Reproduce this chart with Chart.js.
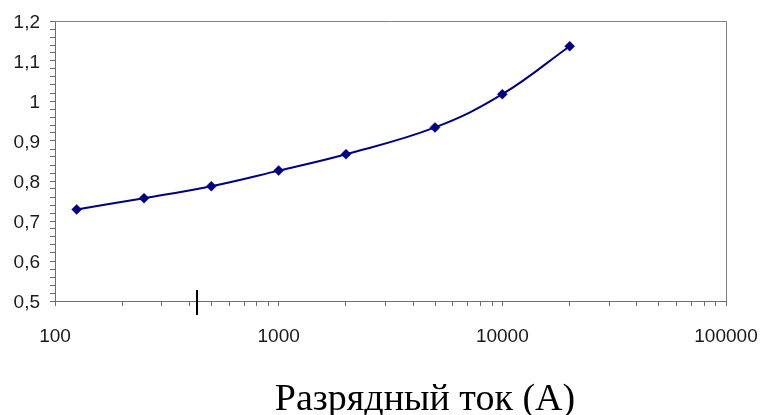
<!DOCTYPE html>
<html><head><meta charset="utf-8">
<script src="https://cdn.jsdelivr.net/npm/chart.js@4"></script>
<style>html,body{margin:0;padding:0;background:#fff}#wrap{width:761px;height:415px}</style>
</head><body><div id="wrap"><canvas id="c" width="761" height="415"></canvas></div>
<script>
const currents = [125, 250, 500, 1000, 2000, 5000, 10000, 20000];
const values = [0.729, 0.757, 0.787, 0.826, 0.867, 0.934, 1.017, 1.137];
const xTickValues = [100,200,300,400,500,600,700,800,900,1000,2000,3000,4000,5000,6000,7000,8000,9000,10000,20000,30000,40000,50000,60000,70000,80000,90000,100000];
const xTickLabels = {100:'100',1000:'1000',10000:'10000',100000:'100000'};
const yTickLabels = ['0,5','0,6','0,7','0,8','0,9','1','1,1','1,2'];
const xTitle = 'Разрядный ток (А)';
const strayMarkValue = 430;

const axisColor = '#6e6e6e';

const framePlugin = {
  id: 'frame',
  afterDraw(chart) {
    const {ctx, chartArea: a, scales} = chart;
    ctx.save();
    ctx.strokeStyle = '#808080';
    ctx.lineWidth = 1;
    ctx.beginPath();
    ctx.moveTo(a.left, a.top + 0.5);
    ctx.lineTo(a.right + 0.5, a.top + 0.5);
    ctx.lineTo(a.right + 0.5, a.bottom);
    ctx.stroke();
    const px = Math.round(scales.x.getPixelForValue(strayMarkValue));
    ctx.strokeStyle = '#000';
    ctx.lineWidth = 2;
    ctx.beginPath();
    ctx.moveTo(px, a.bottom - 11);
    ctx.lineTo(px, a.bottom + 14);
    ctx.stroke();
    // axis title
    ctx.fillStyle = '#000';
    ctx.font = '38px "Liberation Serif", "Times New Roman", serif';
    ctx.textAlign = 'center';
    ctx.textBaseline = 'alphabetic';
    ctx.fillText(xTitle, 425, 410);
    ctx.restore();
  }
};

new Chart(document.getElementById('c'), {
  type: 'line',
  data: {
    datasets: [{
      data: currents.map((x, i) => ({x, y: values[i]})),
      borderColor: '#000080',
      backgroundColor: '#000080',
      borderWidth: 2,
      pointStyle: 'rectRot',
      pointRadius: 5,
      pointBorderWidth: 0.5,
      tension: 0.4,
      fill: false
    }]
  },
  options: {
    responsive: false,
    animation: false,
    layout: {padding: {left: 0, right: 35, top: 21, bottom: 0}},
    plugins: {legend: {display: false}, tooltip: {enabled: false}},
    scales: {
      x: {
        type: 'logarithmic',
        min: 100, max: 100000,
        afterBuildTicks: (s) => { s.ticks = xTickValues.map(v => ({value: v})); },
        afterFit: (s) => { s.height = 114; s.paddingLeft = 0; s.paddingRight = 0; },
        grid: {drawOnChartArea: false, tickLength: 5, color: axisColor},
        border: {color: axisColor, width: 1},
        ticks: {
          autoSkip: false, maxRotation: 0, minRotation: 0, padding: 19,
          color: '#1a1a1a',
          font: {family: '"Liberation Sans", Arial, sans-serif', size: 19},
          callback: (v) => xTickLabels[v] || ''
        }
      },
      y: {
        min: 0.5, max: 1.2,
        afterFit: (s) => { s.width = 55; s.paddingTop = 0; s.paddingBottom = 0; },
        grid: {drawOnChartArea: false, tickLength: 5, color: axisColor},
        border: {color: axisColor, width: 1},
        ticks: {
          stepSize: 0.02, autoSkip: false, padding: 10,
          color: '#1a1a1a',
          font: {family: '"Liberation Sans", Arial, sans-serif', size: 19, lineHeight: '4px'},
          callback: (v) => {
            const k = Math.round((v - 0.5) / 0.02);
            return k % 5 === 0 ? ['', yTickLabels[k / 5]] : '';
          }
        }
      }
    }
  },
  plugins: [framePlugin]
});
</script></body></html>
